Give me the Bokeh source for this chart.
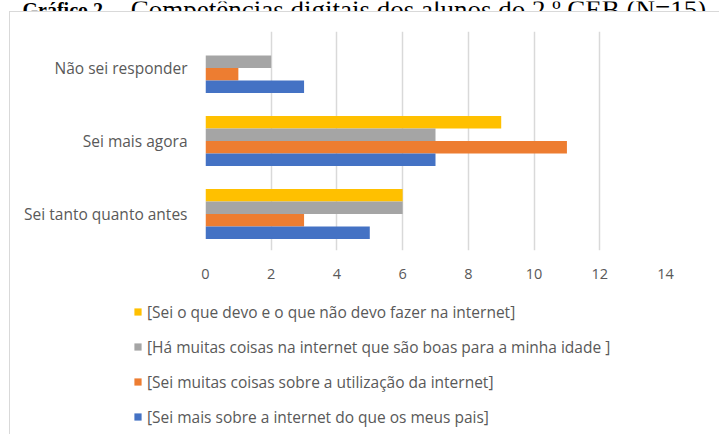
from bokeh.plotting import figure
from bokeh.models import (ColumnDataSource, FactorRange, Range1d, Legend, LegendItem,
                          FixedTicker, Label)
from bokeh.transform import dodge
from bokeh.embed import file_html
from bokeh.resources import INLINE

# ---- data ----
categories = ["Sei tanto quanto antes", "Sei mais agora", "Não sei responder"]  # bottom -> top
s_devo = [6, 9, 0]      # [Sei o que devo e o que não devo fazer na internet]
s_boas = [6, 7, 2]      # [Há muitas coisas na internet que são boas para a minha idade ]
s_util = [3, 11, 1]     # [Sei muitas coisas sobre a utilização da internet]
s_pais = [5, 7, 3]      # [Sei mais sobre a internet do que os meus pais]
series_names = [
    "[Sei o que devo e o que não devo fazer na internet]",
    "[Há muitas coisas na internet que são boas para a minha idade ]",
    "[Sei muitas coisas sobre a utilização da internet]",
    "[Sei mais sobre a internet do que os meus pais]",
]
x_ticks = [0, 2, 4, 6, 8, 10, 12, 14]
title_bold = "Gráfico 2"
title_rest = "– Competências digitais dos alunos do 2.º CEB (N=15)"

colors = ["#FFC000", "#A5A5A5", "#ED7D31", "#4472C4"]
offsets = [0.257, 0.0856, -0.0856, -0.257]
bar_h = 0.171
FONT = "Open Sans"
TXT = "#595959"
LINE = "#d9d9d9"
W = 719

src = ColumnDataSource(dict(cat=categories, devo=s_devo, boas=s_boas, util=s_util, pais=s_pais))
cols = ["devo", "boas", "util", "pais"]


def bare(fig):
    fig.outline_line_color = None
    fig.background_fill_alpha = 0
    fig.border_fill_alpha = 0
    fig.grid.visible = False


# ---------- caption strip (cut off at the top, as in the source) ----------
pt = figure(width=W, height=11, x_range=Range1d(0, 1), y_range=Range1d(0, 1),
            output_backend="svg", toolbar_location=None,
            x_axis_location=None, y_axis_location=None,
            min_border_left=0, min_border_right=0, min_border_top=0, min_border_bottom=0)
bare(pt)
pt.add_layout(Label(x=22, y=3, x_units="screen", y_units="screen", text=title_bold,
                    text_font="Liberation Serif", text_font_style="bold",
                    text_font_size="20px", text_color="black", text_baseline="alphabetic"))
pt.add_layout(Label(x=110, y=3, x_units="screen", y_units="screen", text=title_rest,
                    text_font="Liberation Serif",
                    text_font_size="27px", text_color="black", text_baseline="alphabetic"))

# ---------- main chart ----------
p = figure(width=W, height=289, y_range=FactorRange(*categories),
           x_range=Range1d(0, 14), output_backend="svg", toolbar_location=None,
           min_border_left=205, min_border_right=54, min_border_top=20,
           min_border_bottom=50)
p.outline_line_color = None
p.background_fill_color = "white"
p.border_fill_alpha = 0
p.styles = {
    "background-image": f"linear-gradient({LINE}, {LINE}), linear-gradient({LINE}, {LINE})",
    "background-repeat": "no-repeat",
    "background-size": "1px 100%, 100% 1px",
    "background-position": "9px 0px, 9px 0px",
}

for col, c, off in zip(cols, colors, offsets):
    p.hbar(y=dodge("cat", off, range=p.y_range), right=col, left=0, height=bar_h,
           source=src, fill_color=c, line_color=None)

p.xaxis.ticker = FixedTicker(ticks=x_ticks)
p.xaxis.axis_line_color = None
p.xaxis.major_tick_line_color = None
p.xaxis.minor_tick_line_color = None
p.xaxis.major_label_standoff = 12
p.xaxis.major_label_text_font = FONT
p.xaxis.major_label_text_font_size = "14.5px"
p.xaxis.major_label_text_color = TXT

p.yaxis.axis_line_color = None
p.yaxis.major_tick_line_color = None
p.yaxis.minor_tick_line_color = None
p.yaxis.major_label_standoff = 12
p.yaxis.major_label_text_font = FONT
p.yaxis.major_label_text_font_size = "15.5px"
p.yaxis.major_label_text_color = TXT

p.xgrid.grid_line_color = LINE
p.xgrid.grid_line_width = 1.5
p.ygrid.grid_line_color = None

# ---------- legend strip ----------
pl = figure(width=W, height=134, y_range=FactorRange(*categories), x_range=Range1d(0, 14),
            output_backend="svg", toolbar_location=None,
            x_axis_location=None, y_axis_location=None,
            min_border_left=0, min_border_right=0, min_border_top=0, min_border_bottom=0)
bare(pl)
pl.styles = {
    "background-image": f"linear-gradient({LINE}, {LINE})",
    "background-repeat": "no-repeat",
    "background-size": "1px 100%",
    "background-position": "9px 0px",
}
leg_renderers = []
for col, c, off in zip(cols, colors, offsets):
    r = pl.hbar(y=dodge("cat", off, range=pl.y_range), right=col, left=0, height=bar_h,
                source=src, fill_color=c, line_color=None, visible=False)
    leg_renderers.append(r)

legend = Legend(items=[LegendItem(label=n, renderers=[r]) for n, r in zip(series_names, leg_renderers)],
                location=(133, 6.5), orientation="vertical", click_policy="none",
                glyph_width=9, glyph_height=9, label_height=21, spacing=13,
                label_standoff=5, padding=0, margin=0,
                label_text_font=FONT, label_text_font_size="15.5px", label_text_color=TXT,
                border_line_color=None, background_fill_alpha=0)
pl.add_layout(legend, "center")

open("out.html", "w").write(file_html([pt, p, pl], INLINE))
